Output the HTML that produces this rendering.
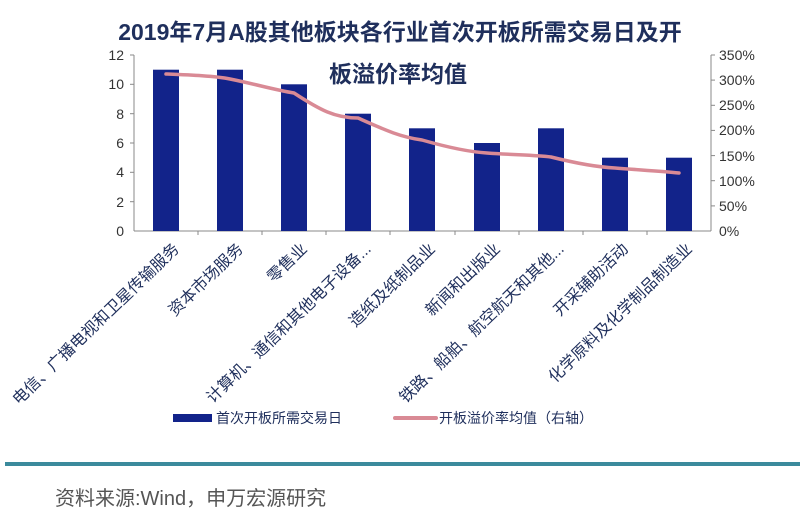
<!DOCTYPE html>
<html><head><meta charset="utf-8"><style>
body{margin:0;background:#fff;}
svg{display:block;font-family:"Liberation Sans","Noto Sans CJK SC",sans-serif;}
</style></head><body>
<svg width="800" height="519" viewBox="0 0 800 519">
<rect width="800" height="519" fill="#fff"/>
<g font-weight="bold" font-size="23" fill="#1f2f5c" text-anchor="middle">
<text x="400" y="40">2019年7月A股其他板块各行业首次开板所需交易日及开</text>
<text x="398" y="82">板溢价率均值</text>
</g>
<g stroke="#888" stroke-width="1" fill="none">
<line x1="134" y1="55" x2="134" y2="231"/>
<line x1="134" y1="231" x2="711" y2="231"/>
<line x1="711" y1="55" x2="711" y2="231"/>
</g>
<g stroke="#888">
<line x1="130" y1="55" x2="134" y2="55"/><line x1="130" y1="84.3" x2="134" y2="84.3"/><line x1="130" y1="113.7" x2="134" y2="113.7"/><line x1="130" y1="143" x2="134" y2="143"/><line x1="130" y1="172.3" x2="134" y2="172.3"/><line x1="130" y1="201.7" x2="134" y2="201.7"/>
<line x1="711" y1="55" x2="715" y2="55"/><line x1="711" y1="80.1" x2="715" y2="80.1"/><line x1="711" y1="105.3" x2="715" y2="105.3"/><line x1="711" y1="130.4" x2="715" y2="130.4"/><line x1="711" y1="155.6" x2="715" y2="155.6"/><line x1="711" y1="180.7" x2="715" y2="180.7"/><line x1="711" y1="205.9" x2="715" y2="205.9"/>
<line x1="198" y1="231" x2="198" y2="235"/><line x1="262" y1="231" x2="262" y2="235"/><line x1="326" y1="231" x2="326" y2="235"/><line x1="390" y1="231" x2="390" y2="235"/><line x1="455" y1="231" x2="455" y2="235"/><line x1="519" y1="231" x2="519" y2="235"/><line x1="583" y1="231" x2="583" y2="235"/><line x1="647" y1="231" x2="647" y2="235"/>
</g>
<g font-size="14" fill="#333" text-anchor="end">
<text x="124" y="60">12</text><text x="124" y="89">10</text><text x="124" y="119">8</text><text x="124" y="148">6</text><text x="124" y="177">4</text><text x="124" y="207">2</text><text x="124" y="236">0</text>
</g>
<g font-size="14" fill="#333">
<text x="719" y="60">350%</text><text x="719" y="85">300%</text><text x="719" y="110">250%</text><text x="719" y="135">200%</text><text x="719" y="161">150%</text><text x="719" y="186">100%</text><text x="719" y="211">50%</text><text x="719" y="236">0%</text>
</g>
<g fill="#12238a">
<rect x="153" y="69.7" width="26" height="161.3"/>
<rect x="217" y="69.7" width="26" height="161.3"/>
<rect x="281" y="84.3" width="26" height="146.7"/>
<rect x="345" y="113.7" width="26" height="117.3"/>
<rect x="409" y="128.3" width="26" height="102.7"/>
<rect x="474" y="143" width="26" height="88"/>
<rect x="538" y="128.3" width="26" height="102.7"/>
<rect x="602" y="157.7" width="26" height="73.3"/>
<rect x="666" y="157.7" width="26" height="73.3"/>
</g>
<path d="M166,74 C190,75 215,76 230,79 C255,84 275,90 294,93 C320,110 335,118 358,118 C385,130 400,137 422,140 C450,148 470,152 487,153 C515,155 535,155 551,157 C575,163 595,167 615,168 C640,170 660,171 679,173" fill="none" stroke="#d98a95" stroke-width="3.5" stroke-linecap="round"/>
<g font-size="16" fill="#1f2f5c" text-anchor="end">
<text transform="translate(180,250) rotate(-44)">电信、广播电视和卫星传输服务</text>
<text transform="translate(244,250) rotate(-44)">资本市场服务</text>
<text transform="translate(308,250) rotate(-44)">零售业</text>
<text transform="translate(372,250) rotate(-44)">计算机、通信和其他电子设备...</text>
<text transform="translate(436,250) rotate(-44)">造纸及纸制品业</text>
<text transform="translate(501,250) rotate(-44)">新闻和出版业</text>
<text transform="translate(565,250) rotate(-44)">铁路、船舶、航空航天和其他...</text>
<text transform="translate(629,250) rotate(-44)">开采辅助活动</text>
<text transform="translate(693,250) rotate(-44)">化学原料及化学制品制造业</text>
</g>
<rect x="173" y="414" width="39" height="8" fill="#12238a"/>
<text x="216" y="423" font-size="14" fill="#1f2f5c">首次开板所需交易日</text>
<line x1="395" y1="418" x2="436" y2="418" stroke="#d98a95" stroke-width="4" stroke-linecap="round"/>
<text x="439" y="423" font-size="14" fill="#1f2f5c">开板溢价率均值（右轴）</text>
<rect x="5" y="462" width="795" height="4" fill="#3b8a9c"/>
<text x="55" y="505" font-size="20" fill="#555">资料来源:Wind，申万宏源研究</text>
</svg>
</body></html>
